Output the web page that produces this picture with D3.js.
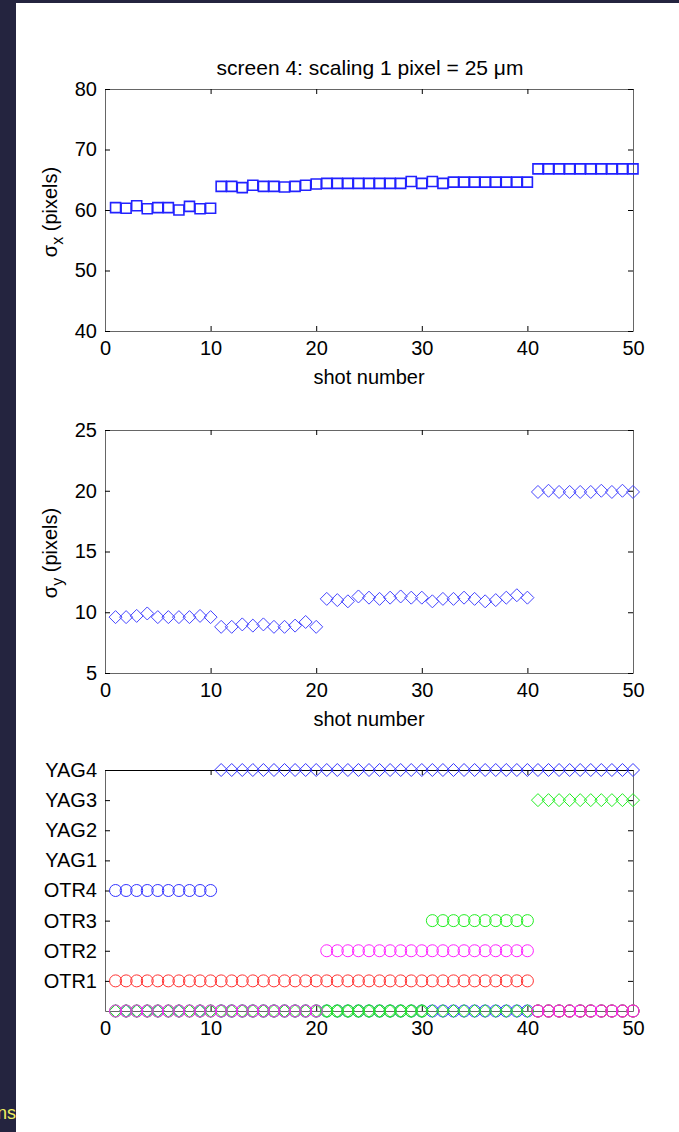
<!DOCTYPE html>
<html>
<head>
<meta charset="utf-8">
<script src="https://cdn.jsdelivr.net/npm/d3@7"></script>
<style>
  body { margin: 0; background: #24243f; }
  svg { display: block; font-family: "Liberation Sans", Arial, sans-serif; }
</style>
</head>
<body>
<div id="chart-area"></div>
<script>
// ---- data ----
const shots = d3.range(1, 51);

const sigmaX = [
  60.4, 60.3, 60.7, 60.2, 60.4, 60.4, 60.0, 60.6, 60.2, 60.3,
  63.9, 63.9, 63.7, 64.1, 63.9, 63.9, 63.8, 63.9, 64.1, 64.3,
  64.4, 64.4, 64.4, 64.4, 64.4, 64.4, 64.4, 64.4, 64.7, 64.4,
  64.7, 64.4, 64.6, 64.6, 64.6, 64.6, 64.6, 64.6, 64.6, 64.6,
  66.8, 66.8, 66.8, 66.8, 66.8, 66.8, 66.8, 66.8, 66.8, 66.8
];

const sigmaY = [
  9.6, 9.6, 9.7, 9.9, 9.6, 9.6, 9.6, 9.6, 9.7, 9.6,
  8.8, 8.8, 9.0, 8.9, 9.0, 8.8, 8.8, 8.9, 9.2, 8.8,
  11.1, 11.0, 10.9, 11.3, 11.2, 11.1, 11.2, 11.3, 11.2, 11.2,
  10.9, 11.1, 11.1, 11.2, 11.1, 10.9, 11.0, 11.2, 11.4, 11.2,
  19.9, 20.0, 19.9, 19.9, 19.9, 19.9, 20.0, 19.9, 20.0, 19.9
];

const screenLabels = ['', 'OTR1', 'OTR2', 'OTR3', 'OTR4', 'YAG1', 'YAG2', 'YAG3', 'YAG4'];
const xTicks = [0, 10, 20, 30, 40, 50];
const sigmaXTicks = [40, 50, 60, 70, 80];
const sigmaYTicks = [5, 10, 15, 20, 25];

// screen in use per shot (level index), 0 = not in use
const yag4 = shots.map(s => s > 10 ? 8 : 0);
const otr4 = shots.map(s => s <= 10 ? 4 : 0);
const otr3 = shots.map(s => s > 30 && s <= 40 ? 3 : 0);
const yag3 = shots.map(s => s > 40 ? 7 : 0);
const otr1 = shots.map(s => s <= 40 ? 1 : 0);
const otr2 = shots.map(s => s > 20 && s <= 40 ? 2 : 0);

const screenSeries = [
  {values: yag4, color: '#3333ff', shape: 'diamond'},
  {values: otr4, color: '#3333ff', shape: 'circle'},
  {values: otr3, color: '#22ee22', shape: 'circle'},
  {values: yag3, color: '#22ee22', shape: 'diamond'},
  {values: otr1, color: '#ff3333', shape: 'circle'},
  {values: otr2, color: '#ff22ff', shape: 'circle'}
];

// ---- layout ----
const W = 679, H = 1132;
const left = 105, right = 633;
const fontSize = '20px';

const svg = d3.select('#chart-area').append('svg')
  .attr('width', W)
  .attr('height', H);

// label of the page behind, partly hidden by the figure
svg.append('text')
  .attr('x', -3)
  .attr('y', 1119)
  .attr('font-size', '18px')
  .attr('fill', '#f0f060')
  .text('ns');

svg.append('rect')
  .attr('x', 16).attr('y', 3)
  .attr('width', W - 16).attr('height', H - 3)
  .attr('fill', '#fff');

const x = d3.scaleLinear().domain([0, 50]).range([left, right]);

function drawFrame(y, top, bottom, yTicks, yFormat, showXLabel) {
  const g = svg.append('g');

  g.append('g')
    .attr('transform', `translate(0, ${bottom})`)
    .call(d3.axisBottom(x).tickValues(xTicks).tickSizeInner(-5).tickSizeOuter(0).tickPadding(10))
    .call(a => a.selectAll('text').attr('font-size', fontSize).attr('fill', '#000'));

  g.append('g')
    .attr('class', 'top-axis')
    .attr('transform', `translate(0, ${top})`)
    .call(d3.axisTop(x).tickValues(xTicks).tickSizeInner(-5).tickSizeOuter(0).tickFormat(''));

  g.append('g')
    .attr('transform', `translate(${left}, 0)`)
    .call(d3.axisLeft(y).tickValues(yTicks).tickSizeInner(-5).tickSizeOuter(0).tickPadding(8).tickFormat(yFormat))
    .call(a => a.selectAll('text').attr('font-size', fontSize).attr('fill', '#000'));

  g.append('g')
    .attr('transform', `translate(${right}, 0)`)
    .call(d3.axisRight(y).tickValues(yTicks).tickSizeInner(-5).tickSizeOuter(0).tickFormat(''));

  g.selectAll('.domain').attr('stroke', '#666');
  g.selectAll('.tick line').attr('stroke', '#000');

  if (showXLabel) {
    g.append('text')
      .attr('x', (left + right) / 2)
      .attr('y', bottom + 53)
      .attr('text-anchor', 'middle')
      .attr('font-size', fontSize)
      .text('shot number');
  }
  return g;
}

function yLabel(sub, cy) {
  const t = svg.append('text')
    .attr('transform', `translate(57, ${cy}) rotate(-90)`)
    .attr('text-anchor', 'middle')
    .attr('font-size', fontSize);
  t.append('tspan').text('σ');
  t.append('tspan').attr('dy', 6).attr('font-size', '16px').text(sub);
  t.append('tspan').attr('dy', -6).text(' (pixels)');
}

const symbolPath = {
  square: d3.symbol().type(d3.symbolSquare).size(100)(),
  diamond: 'M0,-6.5L6.5,0L0,6.5L-6.5,0Z',
  circle: d3.symbol().type(d3.symbolCircle).size(Math.PI * 36)()
};

// ---- panel 1: sigma x ----
const y1 = d3.scaleLinear().domain([40, 80]).range([331, 89]);
svg.append('text')
  .attr('x', (left + right) / 2 + 1)
  .attr('y', 75)
  .attr('text-anchor', 'middle')
  .attr('font-size', '21px')
  .text('screen 4: scaling 1 pixel = 25 μm');
drawFrame(y1, 89, 331, sigmaXTicks, d3.format('d'), true);
yLabel('x', 212);
svg.append('g').selectAll('path')
  .data(sigmaX)
  .join('path')
  .attr('d', symbolPath.square)
  .attr('transform', (d, i) => `translate(${x(shots[i])}, ${y1(d)})`)
  .attr('fill', 'none')
  .attr('stroke', '#2222ff')
  .attr('stroke-width', 1.6);

// ---- panel 2: sigma y ----
const y2 = d3.scaleLinear().domain([5, 25]).range([673, 430]);
drawFrame(y2, 430, 673, sigmaYTicks, d3.format('d'), true);
yLabel('y', 553);
svg.append('g').selectAll('path')
  .data(sigmaY)
  .join('path')
  .attr('d', symbolPath.diamond)
  .attr('transform', (d, i) => `translate(${x(shots[i])}, ${y2(d)})`)
  .attr('fill', 'none')
  .attr('stroke', '#4444ff')
  .attr('stroke-width', 1);

// ---- panel 3: screens in use ----
const y3 = d3.scaleLinear().domain([0, 8]).range([1011, 770]);
const g3 = drawFrame(y3, 770, 1011, d3.range(1, 9), d => screenLabels[d], false);
g3.select('.top-axis .domain').attr('stroke', '#000');

screenSeries.forEach(s => {
  svg.append('g').selectAll('path')
    .data(s.values)
    .join('path')
    .attr('d', symbolPath[s.shape])
    .attr('transform', (d, i) => `translate(${x(shots[i])}, ${y3(d)})`)
    .attr('fill', 'none')
    .attr('stroke', s.color)
    .attr('stroke-width', 1);
});
</script>
</body>
</html>
